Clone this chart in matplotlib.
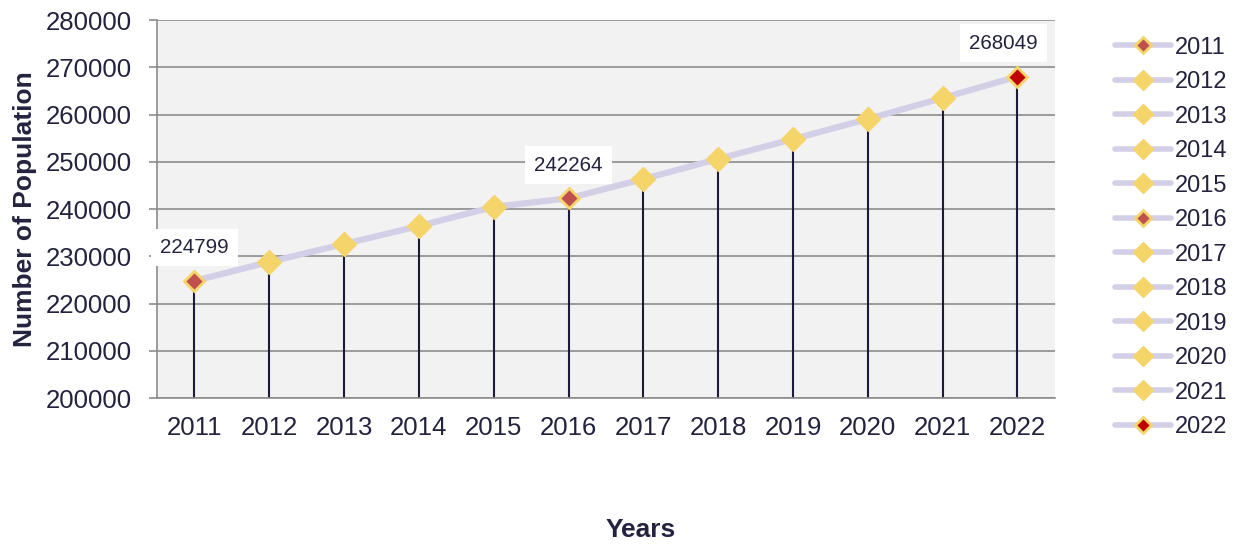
import matplotlib.pyplot as plt
from matplotlib.lines import Line2D

plt.rcParams['font.family'] = ['Liberation Sans', 'DejaVu Sans']

years = ['2011', '2012', '2013', '2014', '2015', '2016',
         '2017', '2018', '2019', '2020', '2021', '2022']
population = [224799, 228800, 232600, 236400, 240450, 242264,
              246350, 250600, 254800, 259050, 263500, 268049]
labelled = ['2011', '2016', '2022']

line_col = '#d2cfe6'
yellow = '#f5d46a'
text_col = '#23233f'
face_cols = {'2011': '#c0504d', '2016': '#c0504d', '2022': '#c00000'}

fig = plt.figure(figsize=(12.41, 5.49), dpi=100)
ax = fig.add_axes([0.1265, 0.275, 0.7235, 0.6885])
ax.set_facecolor('#f2f2f2')

x = list(range(len(years)))
ax.set_xlim(-0.5, len(years) - 0.5)
ax.set_ylim(200000, 280000)
ax.set_yticks(range(200000, 280001, 10000))

ax.grid(axis='y', color='#8c8c8c', lw=1.2)
ax.set_axisbelow(True)

# drop lines from each point to the bottom
ax.vlines(x, 200000, population, color='#1c1c3a', lw=1.5, zorder=2)
ax.plot(x, population, color=line_col, lw=4.5, solid_capstyle='round', zorder=3)

handles = []
for i, (yr, val) in enumerate(zip(years, population)):
    if yr in face_cols:
        ax.plot(i, val, marker='D', ms=10, mfc=face_cols[yr], mec=yellow,
                mew=2, zorder=4)
        h = Line2D([], [], color=line_col, lw=4, solid_capstyle='round',
                   marker='D', ms=8.5, mfc=face_cols[yr], mec=yellow, mew=2)
    else:
        ax.plot(i, val, marker='D', ms=12, mfc=yellow, mec=yellow, zorder=4)
        h = Line2D([], [], color=line_col, lw=4, solid_capstyle='round',
                   marker='D', ms=10, mfc=yellow, mec=yellow)
    handles.append(h)
    if yr in labelled:
        dx = -10 if i == len(years) - 1 else 0
        ax.annotate(f'{val}', (i, val), xytext=(dx, 24), textcoords='offset points',
                    ha='center', va='center', fontsize=14.8, color=text_col,
                    bbox=dict(boxstyle='square,pad=0.45', fc='white', ec='none'),
                    zorder=5)

ax.set_xticks(x)
ax.set_xticklabels(years)
ax.tick_params(axis='x', length=0, pad=13, labelsize=18.5, labelcolor=text_col)
ax.tick_params(axis='y', length=6, color='#8c8c8c', width=1.2, pad=12,
               labelsize=18.5, labelcolor=text_col)

for side in ['top', 'right']:
    ax.spines[side].set_visible(False)
for side in ['left', 'bottom']:
    ax.spines[side].set_color('#8c8c8c')
    ax.spines[side].set_linewidth(1.2)

ax.set_ylabel('Number of Population', fontsize=19, fontweight='bold',
              color=text_col, va='center')
ax.yaxis.set_label_coords(-0.147, 0.5)
fig.text(0.516, 0.035, 'Years', fontsize=19, fontweight='bold',
         color=text_col, ha='center', va='center')

fig.legend(handles, years, loc='upper left', bbox_to_anchor=(0.881, 0.972),
           frameon=False, fontsize=17, labelcolor=text_col, handlelength=2.4,
           handletextpad=0.15, labelspacing=0.53)

fig.savefig('out.png', dpi=100)
